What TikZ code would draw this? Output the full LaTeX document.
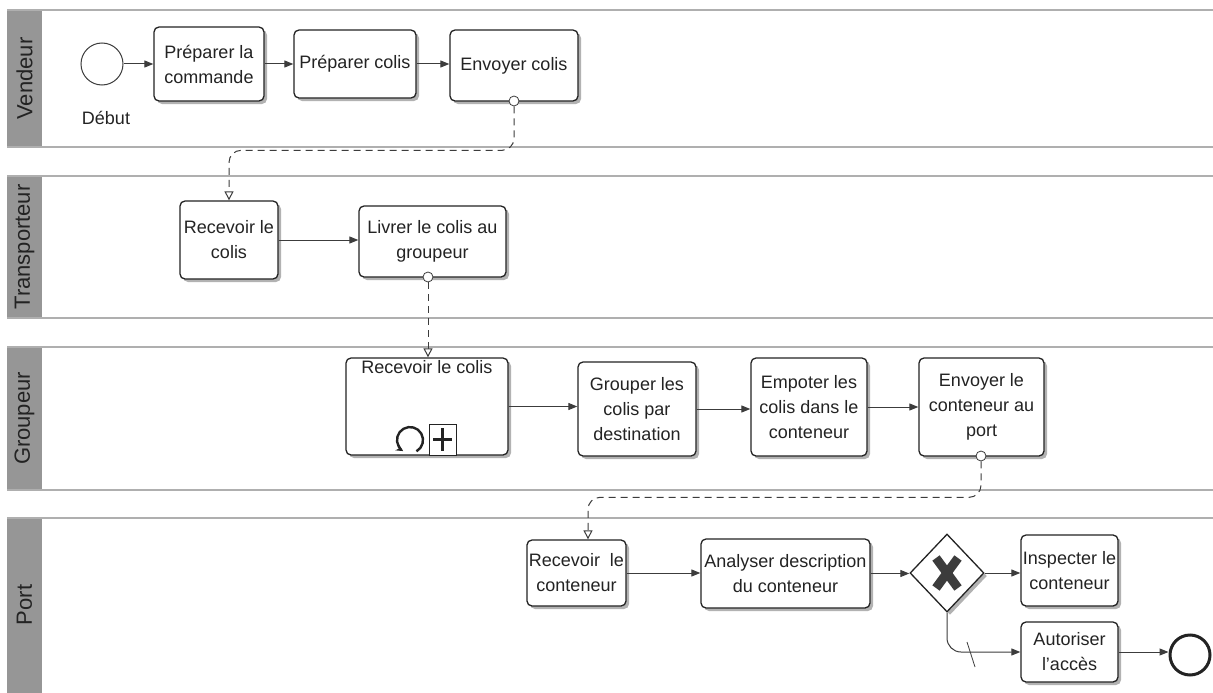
\documentclass[tikz,border=0pt]{standalone}
\usepackage{fontspec}
\setmainfont{Liberation Sans}
\usetikzlibrary{shapes.geometric,arrows.meta,shadows,calc}
\definecolor{band}{RGB}{150,150,150}
\definecolor{laneline}{RGB}{175,175,175}
\definecolor{ink}{RGB}{35,35,35}
\definecolor{flow}{RGB}{60,60,60}
\begin{document}
\begin{tikzpicture}[x=1pt,y=-1pt,
 task/.style={draw=ink, line width=1.3pt, rounded corners=5pt, fill=white, align=center,
   font=\fontsize{18}{25}\selectfont, text=ink, inner sep=2pt,
   drop shadow={shadow xshift=3pt,shadow yshift=-3pt,fill=black,opacity=0.3}},
 seq/.style={draw=flow, line width=1pt, -{Triangle[length=9pt,width=7pt]}},
 msg/.style={draw=flow, line width=1pt, dash pattern=on 7pt off 5pt,
   -{Triangle[open,length=9pt,width=9pt,fill=white]}},
 msgc/.style={circle, draw=flow, fill=white, line width=0.8pt, minimum size=10pt, inner sep=0pt},
 lanelabel/.style={rotate=90, font=\fontsize{22}{26}\selectfont, text=ink},
 laneedge/.style={draw=laneline, line width=1.5pt},
]
\useasboundingbox (0,0) rectangle (1213,693);
\fill[white] (0,0) rectangle (1213,693);

% lanes
\fill[band] (7,10) rectangle (42,147);
\draw[laneedge] (7,10) -- (1213,10);
\draw[laneedge] (7,147) -- (1213,147);
\node[lanelabel] (lv) at (24.5,78.5) {Vendeur};

\fill[band] (7,176) rectangle (42,318);
\draw[laneedge] (7,176) -- (1213,176);
\draw[laneedge] (7,318) -- (1213,318);
\node[lanelabel] (lt) at (24.5,247) {Transporteur};

\fill[band] (7,347) rectangle (42,490);
\draw[laneedge] (7,347) -- (1213,347);
\draw[laneedge] (7,490) -- (1213,490);
\node[lanelabel] (lg) at (24.5,418.5) {Groupeur};

\fill[band] (7,518) rectangle (42,693);
\draw[laneedge] (7,518) -- (1213,518);
\node[lanelabel] (lp) at (24.5,605) {Port};

% Vendeur
\node[circle, draw=flow, line width=1pt, minimum size=42pt, inner sep=0pt, fill=white] (start) at (102,64) {};
\node[font=\fontsize{18}{20}\selectfont, text=ink] (debut) at (106,118) {Début};
\node[task, minimum width=110pt, minimum height=74pt] (t1) at (209,64) {Préparer la\\commande};
\node[task, minimum width=122pt, minimum height=68pt] (t2) at (355,64) {Préparer colis};
\node[task, minimum width=128pt, minimum height=71pt] (t3) at (514,65.5) {Envoyer colis};

% Transporteur
\node[task, minimum width=98pt, minimum height=78pt] (r1) at (229,240) {Recevoir le\\colis};
\node[task, minimum width=147pt, minimum height=71pt] (l1) at (432.5,241.5) {Livrer le colis au\\groupeur};

% Groupeur
\node[task, minimum width=162pt, minimum height=97pt] (sp) at (427,406.5) {};
\node[anchor=north, font=\fontsize{18}{25}\selectfont, text=ink, inner sep=2pt] (splabel) at ([yshift=-1pt]sp.north) {Recevoir le colis};
\node[task, minimum width=118pt, minimum height=94pt] (g1) at (637,409) {Grouper les\\colis par\\destination};
\node[task, minimum width=116pt, minimum height=98pt] (g2) at (809,407) {Empoter les\\colis dans le\\conteneur};
\node[task, minimum width=125pt, minimum height=98pt] (g3) at (981.5,407) {Envoyer le\\conteneur au\\port};

% subprocess markers
\draw[ink, line width=2.4pt, -{Stealth[length=7pt,width=7pt]}] (416.5,451.3) arc[start angle=-60, end angle=238, radius=13pt];
\draw[ink, line width=1pt, fill=white] (429,424) rectangle (456,455);
\draw[ink, line width=2.2pt] (433,439.5) -- (452,439.5);
\draw[ink, line width=2.2pt] (442.5,428) -- (442.5,451);

% Port
\node[task, minimum width=99pt, minimum height=66pt] (p1) at (576.5,573) {Recevoir\ \ le\\conteneur};
\node[task, minimum width=169pt, minimum height=69pt] (p2) at (785.5,573.5) {Analyser description\\du conteneur};
\node[diamond, draw=ink, line width=1.3pt, fill=white, minimum width=74pt, minimum height=78pt, inner sep=0pt,
  drop shadow={shadow xshift=3pt,shadow yshift=-3pt,fill=black,opacity=0.3}] (gw) at (947,573) {};
\draw[flow, line width=9pt] (936,558) -- (958,588);
\draw[flow, line width=9pt] (958,558) -- (936,588);
\node[task, minimum width=97pt, minimum height=71pt] (p3) at (1069.5,570.5) {Inspecter le\\conteneur};
\node[task, minimum width=97pt, minimum height=60pt] (p4) at (1069.5,652) {Autoriser\\l'accès};
\node[circle, draw=ink, line width=3pt, minimum size=40pt, inner sep=0pt, fill=white] (endev) at (1190,655) {};

% sequence flows
\draw[seq] (start.east) -- (start.east -| t1.west);
\draw[seq] (t1.east) -- (t1.east -| t2.west);
\draw[seq] (t2.east) -- (t2.east -| t3.west);
\draw[seq] (r1.east) -- (r1.east -| l1.west);
\draw[seq] (sp.east) -- (sp.east -| g1.west);
\draw[seq] (g1.east) -- (g1.east -| g2.west);
\draw[seq] (g2.east) -- (g2.east -| g3.west);
\draw[seq] (p1.east) -- (p1.east -| p2.west);
\draw[seq] (p2.east) -- (p2.east -| gw.west);
\draw[seq] (gw.east) -- (gw.east -| p3.west);
\draw[seq, rounded corners=14pt] (gw.south) |- (p4.west);
\draw[flow, line width=0.8pt] (967,642) -- (975,667);
\draw[seq] (p4.east) -- (p4.east -| endev.west);

% message flows
\node[msgc] (m1) at (514,101) {};
\node[msgc] (m2) at (428,277) {};
\node[msgc] (m3) at (981,456) {};
\draw[msg, rounded corners=12pt] (m1.south) |- ($(r1.north)+(0,-50)$) -- (r1.north);
\draw[msg] (m2.south) -- (m2.south |- sp.north);
\draw[msg, rounded corners=12pt] (m3.south) |- ($(p1.north)+(11.5,-42)$) -- ($(p1.north)+(11.5,0)$);
\end{tikzpicture}
\end{document}
